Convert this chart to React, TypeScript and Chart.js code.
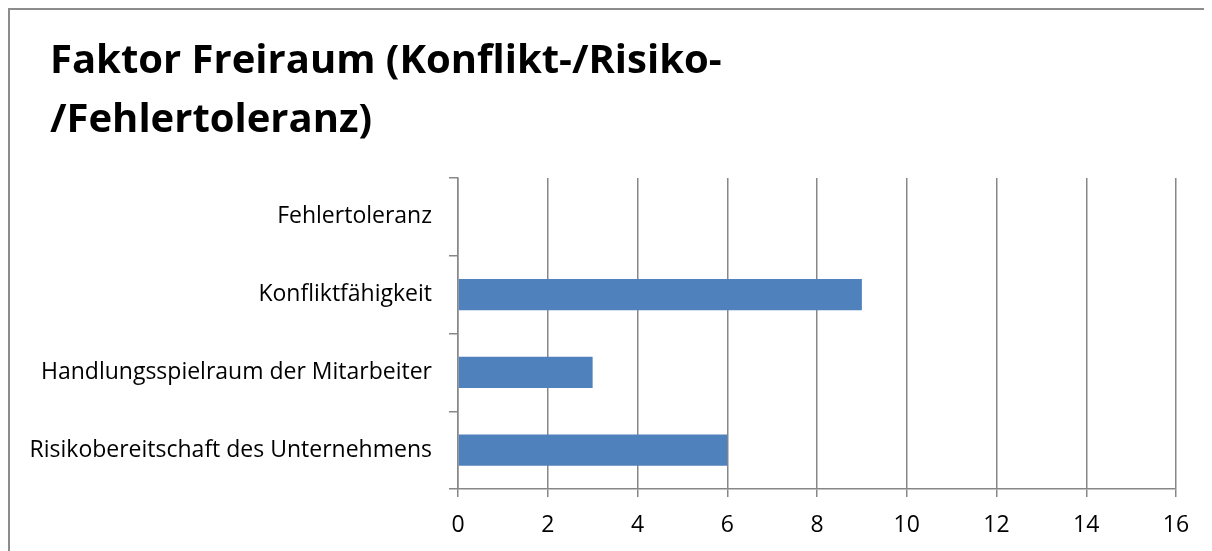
import React, { useEffect, useRef } from "react";
import { Chart, registerables } from "chart.js";

Chart.register(...registerables);

const titleLines = ["Faktor Freiraum (Konflikt-/Risiko-", "/Fehlertoleranz)"];
const categories = [
  "Fehlertoleranz",
  "Konfliktfähigkeit",
  "Handlungsspielraum der Mitarbeiter",
  "Risikobereitschaft des Unternehmens",
];
const values = [0, 9, 3, 6];
const xMin = 0;
const xMax = 16;
const xStep = 2;

const titlePlugin = {
  id: "fixedTitle",
  afterDraw(chart: any) {
    const ctx = chart.ctx;
    ctx.save();
    ctx.fillStyle = "#000";
    ctx.font = "bold 40px 'Open Sans', sans-serif";
    ctx.textAlign = "left";
    ctx.textBaseline = "alphabetic";
    titleLines.forEach((line, i) => {
      ctx.fillText(line, 40, 63 + i * 59);
    });
    ctx.restore();
  },
};

export default function App() {
  const canvasRef = useRef<HTMLCanvasElement | null>(null);

  useEffect(() => {
    document.documentElement.style.overflow = "hidden";
    if (!canvasRef.current) return;
    const grey = "#878787";
    const chart = new Chart(canvasRef.current, {
      type: "bar",
      data: {
        labels: categories,
        datasets: [
          {
            data: values,
            backgroundColor: "#4F81BD",
            borderWidth: 0,
            barPercentage: 0.5,
            categoryPercentage: 0.8,
          },
        ],
      },
      plugins: [titlePlugin],
      options: {
        indexAxis: "y",
        animation: false,
        responsive: true,
        maintainAspectRatio: false,
        layout: { padding: { left: 0, top: 168, right: 36, bottom: 0 } },
        plugins: {
          legend: { display: false },
          tooltip: { enabled: false },
          title: { display: false },
        },
        scales: {
          x: {
            min: xMin,
            max: xMax,
            ticks: {
              stepSize: xStep,
              color: "#000",
              padding: 15,
              font: { family: "'Open Sans', sans-serif", size: 23 },
            },
            grid: { color: grey, lineWidth: 1.5, tickLength: 8, drawTicks: true },
            border: { display: true, color: grey, width: 1.5 },
            afterFit: (scale: any) => {
              scale.height = 62;
            },
          },
          y: {
            ticks: {
              color: "#000",
              padding: 17,
              font: { family: "'Open Sans', sans-serif", size: 23 },
            },
            grid: { drawOnChartArea: false, drawTicks: true, tickLength: 9, color: grey, lineWidth: 1.5, offset: true },
            border: { display: true, color: grey, width: 1.5 },
            afterFit: (scale: any) => {
              scale.width = 448;
            },
          },
        },
      },
    });
    return () => chart.destroy();
  }, []);

  return (
    <div
      style={{
        width: 1204,
        height: 543,
        boxSizing: "border-box",
        borderTop: "2px solid #8c8c8c",
        borderLeft: "2px solid #8c8c8c",
        background: "#fff",
      }}
    >
      <div style={{ position: "relative", width: 1202, height: 541 }}>
        <canvas ref={canvasRef} />
      </div>
    </div>
  );
}
